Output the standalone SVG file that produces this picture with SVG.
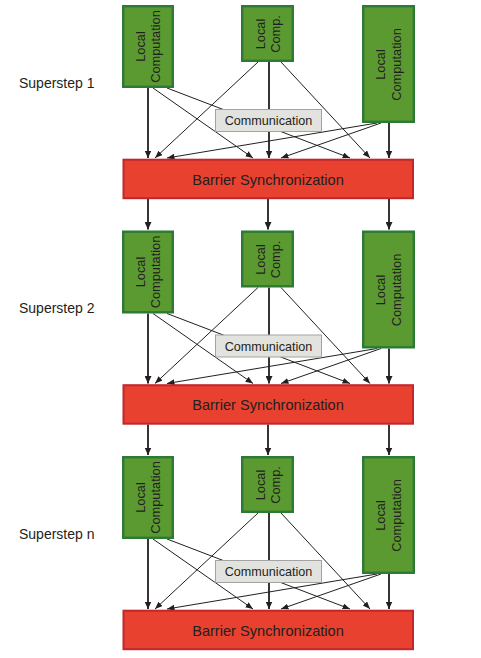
<svg xmlns="http://www.w3.org/2000/svg" width="481" height="658" viewBox="0 0 481 658">
<style>
.lc{fill:#5b9a30;stroke:#2c7a35;stroke-width:2.4}
.bar{fill:#e8412f;stroke:#c1272d;stroke-width:2}
.com{fill:#e2e2df;stroke:#a3a3a3;stroke-width:1}
.t{font-family:"Liberation Sans",Arial,sans-serif;fill:#231f20}
.th{stroke:#231f20;stroke-width:1.8;fill:none;marker-end:url(#ah)}
.tn{stroke:#231f20;stroke-width:1;fill:none;marker-end:url(#ah2)}
</style>
<defs>
<marker id="ah" markerUnits="userSpaceOnUse" markerWidth="8" markerHeight="7" refX="7.5" refY="3.5" orient="auto"><path d="M0,0 L7.5,3.5 L0,7 z" fill="#231f20"/></marker>
<marker id="ah2" markerUnits="userSpaceOnUse" markerWidth="8" markerHeight="7" refX="7.5" refY="3" orient="auto"><path d="M0,0 L7.5,3 L0,6 z" fill="#231f20"/></marker>
</defs>
<rect width="481" height="658" fill="#ffffff"/>
<g id="labels">
<text class="t" x="19" y="87.5" font-size="14">Superstep 1</text>
<text class="t" x="19" y="313" font-size="14">Superstep 2</text>
<text class="t" x="19" y="538.5" font-size="14">Superstep n</text>
</g>
<g id="connectors">
<!-- step 1 -->
<path class="th" d="M148,88 L148,158"/>
<path class="tn" d="M153,88 L253,158"/>
<path class="tn" d="M167,88 L350,158"/>
<path class="tn" d="M258,62 L155,158"/>
<path class="th" d="M269,62 L269,158"/>
<path class="tn" d="M281,62 L370,158"/>
<path class="tn" d="M377,123 L167,158"/>
<path class="tn" d="M381,123 L281,158"/>
<path class="th" d="M389,123 L389,158"/>
<path class="th" d="M148,199 L148,229.5"/>
<path class="th" d="M268,199 L268,229.5"/>
<path class="th" d="M389,199 L389,229.5"/>
<!-- step 2 -->
<path class="th" d="M148,313.5 L148,383.5"/>
<path class="tn" d="M153,313.5 L253,383.5"/>
<path class="tn" d="M167,313.5 L350,383.5"/>
<path class="tn" d="M258,287.5 L155,383.5"/>
<path class="th" d="M269,287.5 L269,383.5"/>
<path class="tn" d="M281,287.5 L370,383.5"/>
<path class="tn" d="M377,348.5 L167,383.5"/>
<path class="tn" d="M381,348.5 L281,383.5"/>
<path class="th" d="M389,348.5 L389,383.5"/>
<path class="th" d="M148,424.5 L148,455"/>
<path class="th" d="M268,424.5 L268,455"/>
<path class="th" d="M389,424.5 L389,455"/>
<!-- step n -->
<path class="th" d="M148,539 L148,609"/>
<path class="tn" d="M153,539 L253,609"/>
<path class="tn" d="M167,539 L350,609"/>
<path class="tn" d="M258,513 L155,609"/>
<path class="th" d="M269,513 L269,609"/>
<path class="tn" d="M281,513 L370,609"/>
<path class="tn" d="M377,574 L167,609"/>
<path class="tn" d="M381,574 L281,609"/>
<path class="th" d="M389,574 L389,609"/>
</g>
<!-- step 1 nodes -->
<g id="s1-local1">
<rect class="lc" x="123.2" y="6.2" width="49.6" height="80.6"/>
<text class="t" font-size="12.8" text-anchor="middle" transform="translate(148,46.5) rotate(-90)"><tspan x="0" y="-3.5">Local</tspan><tspan x="0" y="12.2">Computation</tspan></text>
</g>
<g id="s1-local2">
<rect class="lc" x="242.2" y="6.2" width="50.6" height="54.6"/>
<text class="t" font-size="12.8" text-anchor="middle" transform="translate(267.5,34) rotate(-90)"><tspan x="0" y="-3">Local</tspan><tspan x="0" y="12.7">Comp.</tspan></text>
</g>
<g id="s1-local3">
<rect class="lc" x="363.2" y="6.2" width="50.6" height="115.6"/>
<text class="t" font-size="12.8" text-anchor="middle" transform="translate(388.7,64.5) rotate(-90)"><tspan x="0" y="-3.5">Local</tspan><tspan x="0" y="12.5">Computation</tspan></text>
</g>
<g id="s1-comm">
<rect class="com" x="215.5" y="109.5" width="106" height="22"/>
<text class="t" x="268.5" y="125" font-size="12.6" text-anchor="middle">Communication</text>
</g>
<g id="s1-barrier">
<rect class="bar" x="123.5" y="159.7" width="289.5" height="38.5"/>
<text class="t" x="268" y="184.5" font-size="14.6" text-anchor="middle">Barrier Synchronization</text>
</g>
<!-- step 2 nodes -->
<g id="s2-local1">
<rect class="lc" x="123.2" y="231.7" width="49.6" height="80.6"/>
<text class="t" font-size="12.8" text-anchor="middle" transform="translate(148,272) rotate(-90)"><tspan x="0" y="-3.5">Local</tspan><tspan x="0" y="12.2">Computation</tspan></text>
</g>
<g id="s2-local2">
<rect class="lc" x="242.2" y="231.7" width="50.6" height="54.6"/>
<text class="t" font-size="12.8" text-anchor="middle" transform="translate(267.5,259.5) rotate(-90)"><tspan x="0" y="-3">Local</tspan><tspan x="0" y="12.7">Comp.</tspan></text>
</g>
<g id="s2-local3">
<rect class="lc" x="363.2" y="231.7" width="50.6" height="115.6"/>
<text class="t" font-size="12.8" text-anchor="middle" transform="translate(388.7,290) rotate(-90)"><tspan x="0" y="-3.5">Local</tspan><tspan x="0" y="12.5">Computation</tspan></text>
</g>
<g id="s2-comm">
<rect class="com" x="215.5" y="335" width="106" height="22"/>
<text class="t" x="268.5" y="350.5" font-size="12.6" text-anchor="middle">Communication</text>
</g>
<g id="s2-barrier">
<rect class="bar" x="123.5" y="385.2" width="289.5" height="38.5"/>
<text class="t" x="268" y="410" font-size="14.6" text-anchor="middle">Barrier Synchronization</text>
</g>
<!-- step n nodes -->
<g id="sn-local1">
<rect class="lc" x="123.2" y="457.2" width="49.6" height="80.6"/>
<text class="t" font-size="12.8" text-anchor="middle" transform="translate(148,497.5) rotate(-90)"><tspan x="0" y="-3.5">Local</tspan><tspan x="0" y="12.2">Computation</tspan></text>
</g>
<g id="sn-local2">
<rect class="lc" x="242.2" y="457.2" width="50.6" height="54.6"/>
<text class="t" font-size="12.8" text-anchor="middle" transform="translate(267.5,485) rotate(-90)"><tspan x="0" y="-3">Local</tspan><tspan x="0" y="12.7">Comp.</tspan></text>
</g>
<g id="sn-local3">
<rect class="lc" x="363.2" y="457.2" width="50.6" height="115.6"/>
<text class="t" font-size="12.8" text-anchor="middle" transform="translate(388.7,515.5) rotate(-90)"><tspan x="0" y="-3.5">Local</tspan><tspan x="0" y="12.5">Computation</tspan></text>
</g>
<g id="sn-comm">
<rect class="com" x="215.5" y="560.5" width="106" height="22"/>
<text class="t" x="268.5" y="576" font-size="12.6" text-anchor="middle">Communication</text>
</g>
<g id="sn-barrier">
<rect class="bar" x="123.5" y="610.7" width="289.5" height="38.5"/>
<text class="t" x="268" y="635.5" font-size="14.6" text-anchor="middle">Barrier Synchronization</text>
</g>
</svg>
